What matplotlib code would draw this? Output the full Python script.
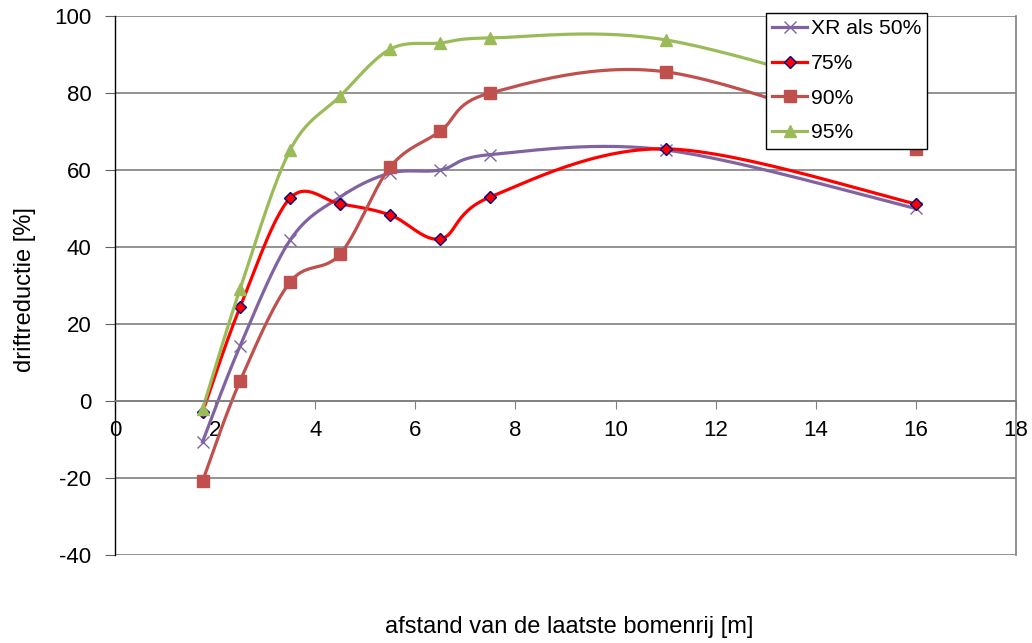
import numpy as np
import matplotlib
matplotlib.use("Agg")
import matplotlib.pyplot as plt

plt.rcParams['font.family'] = ['Liberation Sans', 'DejaVu Sans']
plt.rcParams['axes.unicode_minus'] = False

# afstand van de laatste bomenrij [m]
afstand = [1.75, 2.5, 3.5, 4.5, 5.5, 6.5, 7.5, 11, 16]

# driftreductie [%] per series
xr50 = [-10.6, 14.3, 41.8, 53.0, 59.2, 60.0, 64.0, 65.2, 50.0]
p75 = [-2.9, 24.4, 52.7, 51.2, 48.3, 42.1, 53.0, 65.5, 51.2]
p90 = [-20.8, 5.2, 30.9, 38.2, 60.8, 70.1, 80.0, 85.5, 65.5]
p95 = [-2.1, 29.1, 65.2, 79.2, 91.4, 93.0, 94.3, 93.8, 76.0]

labels = ["XR als 50%", "75%", "90%", "95%"]


def smooth(x, y, n=30):
    """Excel-like smoothed line: cubic bezier through the points (catmull-rom)"""
    x = np.asarray(x, float)
    y = np.asarray(y, float)
    px = np.concatenate([[x[0]], x, [x[-1]]])
    py = np.concatenate([[y[0]], y, [y[-1]]])
    xs, ys, idx = [x[0]], [y[0]], [0]
    t = np.linspace(0, 1, n + 1)[1:]
    for i in range(len(x) - 1):
        p0 = np.array([x[i], y[i]])
        p3 = np.array([x[i + 1], y[i + 1]])
        p1 = p0 + (np.array([px[i + 2], py[i + 2]]) - np.array([px[i], py[i]])) / 6
        p2 = p3 - (np.array([px[i + 3], py[i + 3]]) - np.array([px[i + 1], py[i + 1]])) / 6
        b = ((1 - t) ** 3)[:, None] * p0 + (3 * (1 - t) ** 2 * t)[:, None] * p1 \
            + (3 * (1 - t) * t ** 2)[:, None] * p2 + (t ** 3)[:, None] * p3
        xs.extend(b[:, 0])
        ys.extend(b[:, 1])
        idx.append(len(xs) - 1)
    return xs, ys, idx


fig = plt.figure(figsize=(10.32, 6.43), dpi=100)
ax = fig.add_axes([0.1114, 0.1369, 0.8731, 0.8382])

styles = [
    dict(color='#8064A2', marker='x', ms=8, mew=1.0, mec='#8064A2', lw=2.3),
    dict(color='#FF0000', marker='D', ms=6.5, mfc='#FF0000', mec='#000080', mew=1.0, lw=2.3),
    dict(color='#C0504D', marker='s', ms=8.5, mfc='#C0504D', mec='#C0504D', lw=2.3),
    dict(color='#9BBB59', marker='^', ms=9, mfc='#9BBB59', mec='#9BBB59', lw=2.3),
]

for vals, lab, st in zip([xr50, p75, p90, p95], labels, styles):
    xs, ys, idx = smooth(afstand, vals)
    ax.plot(xs, ys, markevery=idx, label=lab, clip_on=False, **st)

ax.set_xlim(0, 18)
ax.set_ylim(-40, 100)
ax.set_xticks(np.arange(0, 19, 2))
ax.set_yticks(np.arange(-40, 101, 20))

ax.yaxis.grid(True, color='#808080', lw=1.2)
ax.set_axisbelow(True)
ax.spines['top'].set_visible(False)
ax.spines['right'].set_color('#808080')
ax.spines['right'].set_linewidth(1.2)
ax.spines['bottom'].set_position(('data', 0))
ax.spines['bottom'].set_color('#808080')
ax.spines['bottom'].set_linewidth(1.2)
ax.spines['left'].set_color('black')
ax.spines['left'].set_linewidth(1.0)
ax.tick_params(axis='x', direction='out', length=6, color='#808080', labelsize=16, pad=8)
ax.tick_params(axis='y', direction='out', length=7, color='#606060', labelsize=16, pad=10)

fig.text(25 / 1032, 1 - 290 / 643, "driftreductie [%]", fontsize=17, rotation=90,
         ha='center', va='center')
fig.text(569.5 / 1032, 1 - 627 / 643, "afstand van de laatste bomenrij [m]", fontsize=17,
         ha='center', va='center')

leg = ax.legend(loc='upper left', bbox_to_anchor=(766 / 1032, 1 - 13 / 643),
                bbox_transform=fig.transFigure, fontsize=15.2, frameon=True,
                fancybox=False, framealpha=1, edgecolor='black',
                handlelength=1.66, handletextpad=0.15, labelspacing=0.74,
                borderpad=0.3, borderaxespad=0)
leg.get_frame().set_linewidth(1.0)
leg.set_zorder(10)

fig.savefig("out.png", dpi=100)
